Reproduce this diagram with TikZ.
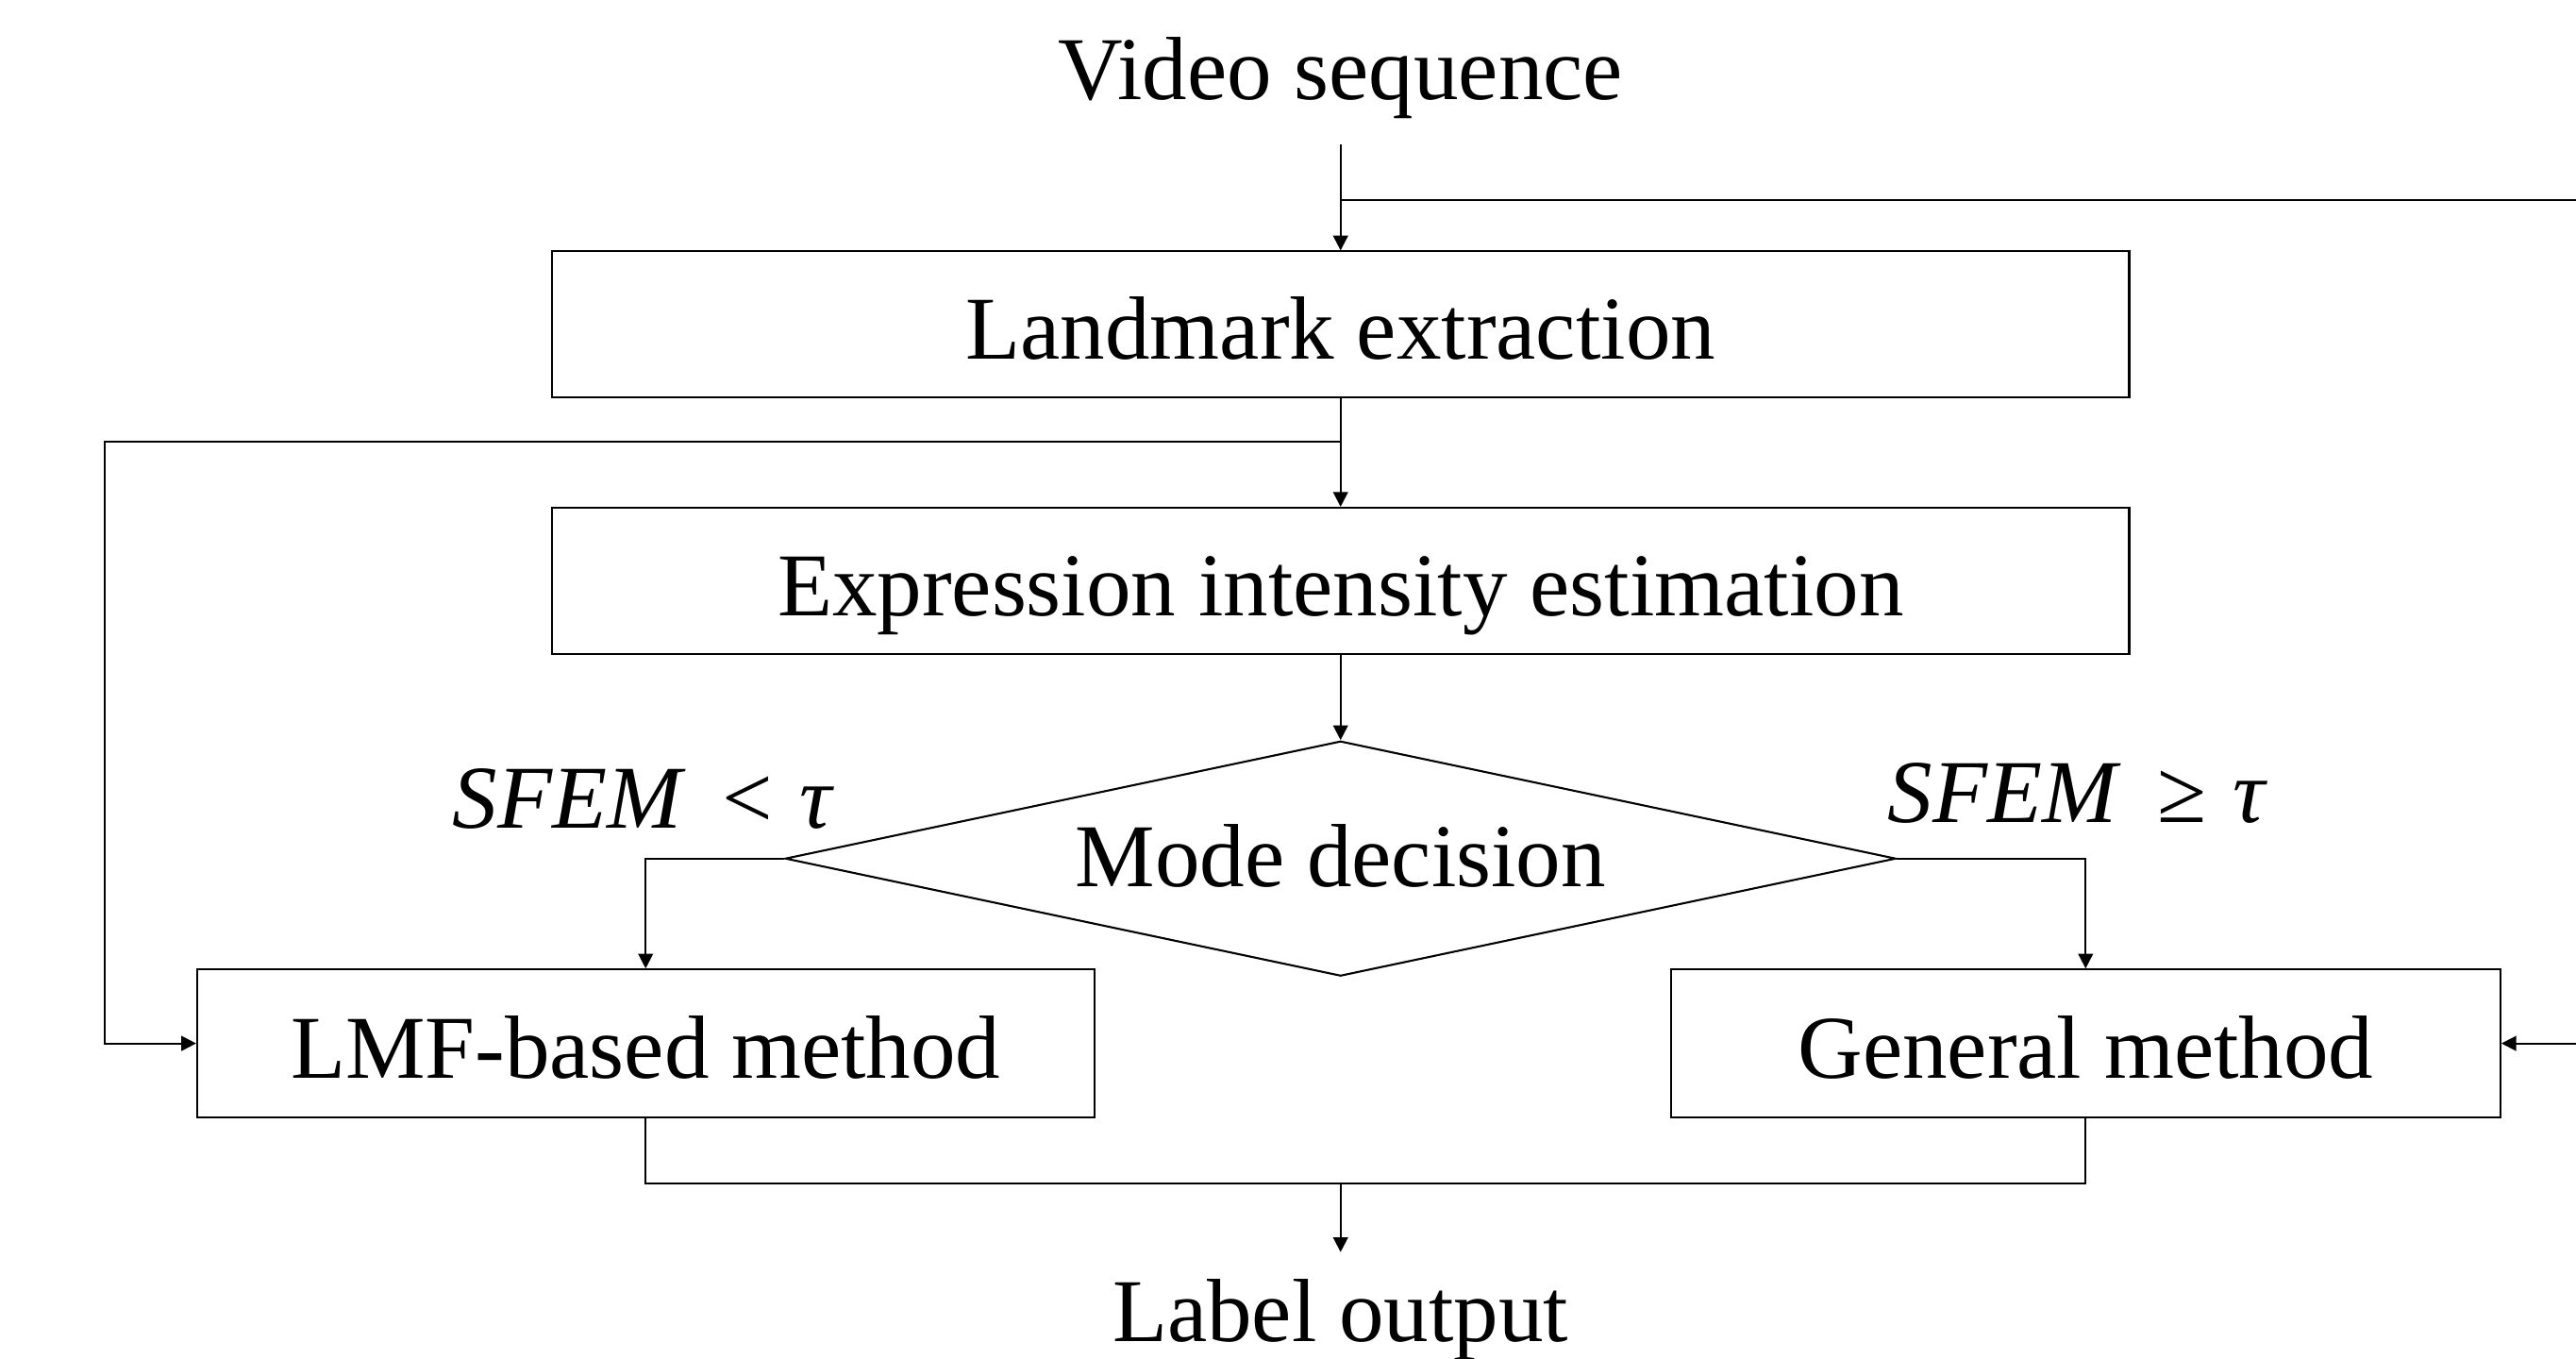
\documentclass[tikz,border=0pt]{standalone}
\usepackage{fontspec}
\setmainfont{Liberation Serif}
\usetikzlibrary{arrows.meta,shapes.geometric}
\begin{document}
\begin{tikzpicture}[x=0.5pt,y=-0.5pt,
  font=\fontsize{27.3}{32}\selectfont,
  line width=0.6pt,
  box/.style={draw, minimum width=480pt, minimum height=44.5pt, inner sep=0pt, text height=21pt, text depth=0pt},
  lowbox/.style={draw, minimum height=45pt, inner sep=0pt, text height=21pt, text depth=0pt},
  dia/.style={draw, diamond, aspect=4.73, minimum width=338pt, minimum height=71.5pt, inner sep=0pt, text height=17pt, text depth=0pt},
  arr/.style={-{Triangle[length=4.5pt,width=4.5pt]}}]
\useasboundingbox (0,0) rectangle (1568,827);
% nodes
\node[anchor=south, inner ysep=7.5pt] (vid) at (816,88) {Video sequence};
\node[box] (lm) at (816,197.5) {Landmark extraction};
\node[box] (ex) at (816,353.5) {Expression intensity estimation};
\node[dia] (md) at (816,522.5) {Mode decision};
\node[lowbox, minimum width=273pt] (lmf) at (393,635) {LMF-based method};
\node[lowbox, minimum width=252.5pt] (gen) at (1269.5,635) {General method};
\node[anchor=north, inner ysep=8pt] (lab) at (816,762) {Label output};
\node (c1) at (391,486) {\itshape SFEM\hspace{0.45em}\upshape<\hspace{0.3em}\itshape τ};
\node (c2) at (1264,483) {\itshape SFEM\hspace{0.45em}\upshape≥\hspace{0.3em}\itshape τ};
% branch points
\coordinate (rb) at (816,122);
\coordinate (re) at (1572,122);
\coordinate (lb) at (816,269);
\coordinate (le) at (64,269);
\coordinate (mrg) at (816,720);
% connectors
\draw[arr] (vid.south) -- (lm.north);
\draw[arr] (rb) -- (re) |- (gen.east);
\draw[arr] (lm.south) -- (ex.north);
\draw[arr] (lb) -- (le) |- (lmf.west);
\draw[arr] (ex.south) -- (md.north);
\draw[arr] (md.west) -| (lmf.north);
\draw[arr] (md.east) -| (gen.north);
\draw (lmf.south) |- (mrg) -| (gen.south);
\draw[arr] (mrg) -- (lab.north);
\end{tikzpicture}
\end{document}
